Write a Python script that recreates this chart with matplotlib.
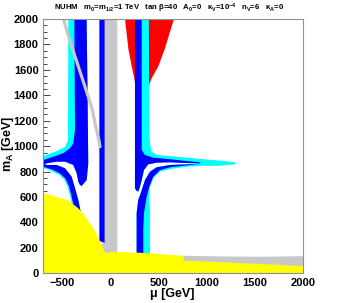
import matplotlib
matplotlib.use("Agg")
import matplotlib.pyplot as plt
from matplotlib.ticker import MultipleLocator

plt.rcParams['font.family'] = ['Liberation Sans', 'DejaVu Sans']
plt.rcParams['font.weight'] = 'bold'
plt.rcParams['mathtext.fontset'] = 'custom'
plt.rcParams['mathtext.rm'] = 'Liberation Sans:bold'
plt.rcParams['mathtext.it'] = 'Liberation Sans:bold'
plt.rcParams['mathtext.bf'] = 'Liberation Sans:bold'

# ---- region boundaries (mu [GeV], mA [GeV]) ----
yellow_mu = [-700, -624, -521, -451, -417, -331, -280, -235, -176, -120, -85, -72, -40,
             0, 100, 300, 450, 600, 755, 760, 1000, 1500, 2000, 2000, -700]
yellow_mA = [631, 616, 592, 576, 563, 511, 472, 420, 356, 270, 220, 183, 160,
             165, 168, 162, 155, 145, 138, 100, 92, 75, 57, 0, 0]

gray_low_mu = [755, 755, 1000, 1200, 1600, 2000, 2000]
gray_low_mA = [0, 138, 135, 132, 130, 135, 0]

gray_band_mu = [-58, 73, 73, -50, -100, -58]
gray_band_mA = [2000, 2000, 150, 150, 230, 240]

blue_strip0_mu = [-113, -58, -58, -113]
blue_strip0_mA = [2000, 2000, 238, 255]

gray_line_mu = [-485, -410, -330, -250, -185, -150, -118, -106]
gray_line_mA = [2000, 1810, 1625, 1440, 1284, 1153, 1048, 996]

red_mu = [153, 187, 222, 246, 260, 390, 394, 429, 498, 567, 619, 660]
red_mA = [2000, 1769, 1628, 1546, 1480, 1460, 1465, 1534, 1628, 1769, 1900, 2000]

# left funnel
left_inner_mu = [-306, -306, -331, -365, -400, -469, -555, -659, -680, -659, -555, -469,
                 -383, -348, -331, -314, -296, -244, -228, -235, -245]
left_inner_mA = [420, 484, 577, 669, 760, 826, 852, 852, 858, 865, 878, 878,
                 852, 787, 720, 694, 687, 734, 865, 1400, 2000]
left_blue_outer_mu = [-372, -368, -365, -383, -417, -487, -590, -694, -700, -700, -694,
                      -600, -520, -465, -430, -405, -385, -365, -335, -306]
left_blue_outer_mA = [2000, 1400, 1127, 1022, 983, 944, 917, 891, 888, 845, 838,
                      815, 785, 745, 690, 620, 550, 484, 420, 420]
left_cyan_outer_mu = [-435, -438, -469, -572, -700, -700, -606, -529, -476, -443, -418,
                      -398, -378, -348, -306]
left_cyan_outer_mA = [2000, 1048, 993, 956, 920, 830, 804, 774, 735, 682, 614,
                      547, 482, 420, 420]

# right funnel
right_cyan_mu = [256, 400, 405, 412, 429, 481, 619, 964, 1137, 1292, 1310, 1292, 1137,
                 930, 792, 619, 515, 446, 412, 404, 412, 412, 412, 273,
                 273, 273, 290, 315, 360, 412, 481, 619, 792, 912,
                 930, 792, 619, 481, 394, 349, 326, 308, 290, 256]
right_cyan_mA = [2000, 2000, 1100, 1022, 956, 930, 922, 897, 886, 873, 865, 857, 846,
                 844, 838, 820, 799, 747, 681, 602, 472, 341, 100, 100,
                 341, 472, 577, 629, 734, 799, 834, 852, 857, 862,
                 865, 867, 873, 870, 857, 812, 734, 681, 642, 668]
right_blue_up_mu = [256, 326, 326, 360, 446, 619, 792, 930, 935, 930, 792, 619, 481,
                    394, 349, 326, 308, 290, 270, 256]
right_blue_up_mA = [2000, 2000, 970, 930, 909, 897, 883, 873, 868, 865, 867, 873, 870,
                    857, 812, 734, 681, 642, 650, 668]
right_blue_low_mu = [273, 273, 273, 290, 315, 360, 412, 481, 619, 792, 912, 930,
                     912, 792, 619, 515, 446, 404, 377, 349, 342, 342]
right_blue_low_mA = [100, 341, 472, 577, 629, 734, 799, 834, 852, 857, 862, 858,
                     860, 849, 834, 812, 760, 681, 602, 472, 341, 100]

title = (r"NUHM   m$_0$=m$_{1/2}$=1 TeV   tan β=40   A$_0$=0   κ$_V$=10$^{-4}$"
         r"   n$_V$=6   κ$_A$=0")

YEL = '#ffff00'
GRY = '#c8c8c8'
BLU = '#0000ff'
CYA = '#00ffff'
RED = '#ff0000'

fig = plt.figure(figsize=(3.52, 3.03), dpi=100)
ax = fig.add_axes([42.7 / 352, 1 - 273.3 / 303, 260.6 / 352, 254.3 / 303])

ax.fill(gray_low_mu, gray_low_mA, color=GRY, lw=0, zorder=1)
ax.fill(gray_band_mu, gray_band_mA, color=GRY, lw=0, zorder=1)
ax.fill(blue_strip0_mu, blue_strip0_mA, color=BLU, lw=0, zorder=2)
ax.fill(red_mu, red_mA, color=RED, lw=0, zorder=1)

ax.fill(left_cyan_outer_mu + left_inner_mu, left_cyan_outer_mA + left_inner_mA,
        color=CYA, lw=0, zorder=2)
ax.fill(left_blue_outer_mu + left_inner_mu, left_blue_outer_mA + left_inner_mA,
        color=BLU, lw=0, zorder=3)
ax.fill(right_cyan_mu, right_cyan_mA, color=CYA, lw=0, zorder=2)
ax.fill(right_blue_up_mu, right_blue_up_mA, color=BLU, lw=0, zorder=3)
ax.fill(right_blue_low_mu, right_blue_low_mA, color=BLU, lw=0, zorder=3)

ax.plot(gray_line_mu, gray_line_mA, color=GRY, lw=2.3, solid_capstyle='round', zorder=4)

ax.fill(yellow_mu, yellow_mA, color=YEL, lw=0, zorder=5)

ax.set_xlim(-700, 2000)
ax.set_ylim(0, 2000)
ax.xaxis.set_major_locator(MultipleLocator(500))
ax.xaxis.set_minor_locator(MultipleLocator(100))
ax.yaxis.set_major_locator(MultipleLocator(200))
ax.yaxis.set_minor_locator(MultipleLocator(50))
ax.tick_params(which='both', direction='in', color='#444444', width=0.7, zorder=6,
               top=False, right=False)
ax.tick_params(which='major', length=5)
ax.tick_params(which='minor', length=3)
ax.tick_params(axis='x', which='major', labelsize=8, pad=3.5)
ax.tick_params(axis='y', which='major', labelsize=8, pad=3)
for lab in ax.get_xticklabels() + ax.get_yticklabels():
    lab.set_fontweight('bold')
for s in ax.spines.values():
    s.set_color('#909090')
    s.set_linewidth(0.8)
    s.set_zorder(7)

fig.text(169 / 352, 1 - 8.5 / 303, title, ha='center', va='center', fontsize=5.6,
         fontweight='bold')
fig.text(172 / 352, 1 - 294.5 / 303, 'μ [GeV]', ha='center', va='center', fontsize=9,
         fontweight='bold')
fig.text(8 / 352, 1 - 144 / 303, 'm$_A$ [GeV]', ha='center', va='center', fontsize=9,
         fontweight='bold', rotation=90)

fig.savefig('out.png', dpi=100)
